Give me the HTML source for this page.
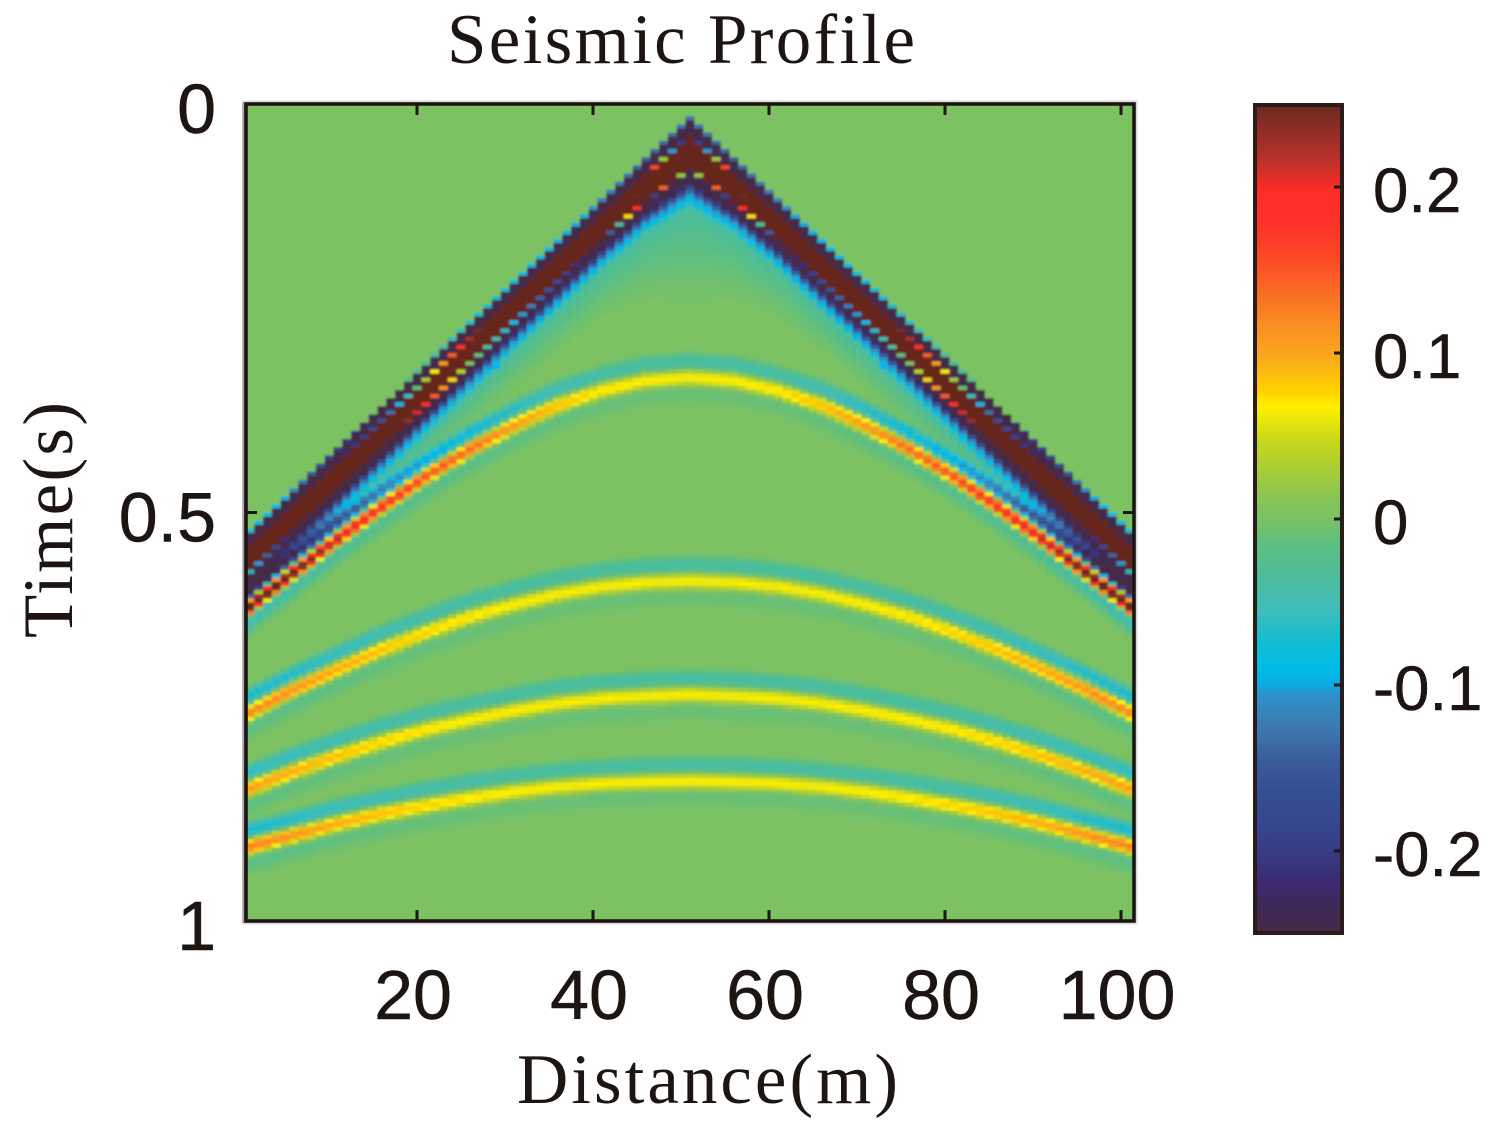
<!DOCTYPE html>
<html>
<head>
<meta charset="utf-8">
<title>Seismic Profile</title>
<style>
html,body{margin:0;padding:0;background:#fff;width:1502px;height:1132px;overflow:hidden}
svg{display:block}
.tick{font-family:"Liberation Sans",sans-serif;font-size:70px;fill:#1c1512;stroke:#1c1512;stroke-width:.5}
.cbtick{font-family:"Liberation Sans",sans-serif;font-size:63.5px;fill:#1c1512;stroke:#1c1512;stroke-width:.5}
.ser{font-family:"Liberation Serif",serif;font-size:71px;fill:#1c1512}
</style>
</head>
<body>
<svg id="chart" xmlns="http://www.w3.org/2000/svg" width="1502" height="1132" viewBox="0 0 1502 1132">
  <defs>
    <clipPath id="plotClip"><rect x="246" y="104" width="888" height="817"/></clipPath>
    <filter id="soft" x="-2%" y="-2%" width="104%" height="104%"><feGaussianBlur stdDeviation="1"/></filter>
    <linearGradient id="cbGrad" x1="0" y1="0" x2="0" y2="1"></linearGradient>
  </defs>
  <text class="ser" x="447" y="63" textLength="468" lengthAdjust="spacing">Seismic Profile</text>
  <rect x="245" y="103" width="890" height="819" fill="none" stroke="#dcd9d8" stroke-width="5"/>
  <line x1="243.5" y1="102" x2="243.5" y2="923" stroke="#aaa3a2" stroke-width="2.5"/>
  <g clip-path="url(#plotClip)">
    <g id="heat" filter="url(#soft)">
      <rect id="heatBg" x="236" y="94" width="908" height="837"/>
    </g>
  </g>
  <g id="ticks"></g>
  <rect x="246" y="104" width="888" height="817" fill="none" stroke="#1b1513" stroke-width="3.6"/>
  <g id="xlabels"></g>
  <g id="ylabels"></g>
  <text class="ser" x="517" y="1103" textLength="381" lengthAdjust="spacing">Distance(m)</text>
  <text class="ser" transform="translate(72,638) rotate(-90)" x="0" y="0" textLength="236" lengthAdjust="spacing">Time(s)</text>
  <rect x="1254" y="104" width="89" height="830" fill="url(#cbGrad)"/>
  <g id="cbticks"></g>
  <rect x="1255" y="105" width="87" height="828" fill="none" stroke="#2a1c19" stroke-width="4"/>
  <g id="cblabels"></g>
</svg>
<script>
// ---- data ----
const traces=[1,6,11,16,21,26,31,36,41,46,51,56,61,66,71,76,81,86,91,96,101];
const directOnset=[.5206,.4696,.4186,.368,.317,.266,.2155,.165,.1145,.064,.0135,.064,.1145,.165,.2155,.266,.317,.368,.4186,.4696,.5206];
const waveStretch=[.56,.56,.56,.56,.56,.56,.56,.56,.56,.6,.72,.6,.56,.56,.56,.56,.56,.56,.56,.56,.56];
const tailStretch=[.3,.3,.3,.3,.3,.32,.35,.38,.45,.62,.9,.62,.45,.38,.35,.32,.3,.3,.3,.3,.3];
const reflector1Time=[.615,.573,.532,.493,.456,.423,.394,.369,.351,.339,.335,.339,.351,.369,.394,.423,.456,.493,.532,.573,.615];
const reflector2Time=[.745,.717,.692,.668,.647,.628,.613,.600,.591,.586,.584,.586,.591,.600,.613,.628,.647,.668,.692,.717,.745];
const reflector3Time=[.838,.817,.798,.781,.766,.754,.743,.734,.728,.725,.723,.725,.728,.734,.743,.754,.766,.781,.798,.817,.838];
const reflector4Time=[.909,.895,.881,.869,.859,.850,.842,.836,.832,.830,.829,.830,.832,.836,.842,.850,.859,.869,.881,.895,.909];
const reflector1Amp=[.32,.29,.23,.19,.16,.14,.115,.09,.075,.07,.068,.07,.075,.09,.115,.14,.16,.19,.23,.29,.32];
const reflector2Amp=[.13,.115,.10,.09,.08,.075,.07,.068,.068,.068,.068,.068,.068,.068,.07,.075,.08,.09,.10,.115,.13];
const reflector3Amp=[.11,.10,.09,.08,.075,.07,.07,.068,.068,.068,.068,.068,.068,.068,.07,.07,.075,.08,.09,.10,.11];
const reflector4Amp=[.13,.115,.10,.09,.08,.075,.07,.068,.068,.07,.07,.07,.068,.068,.07,.075,.08,.09,.10,.115,.13];
const directWavelet=[-.02,-.1,-.35,-.5,-.5,-.5,-.5,-.15,.4,.5,.5,.5,.5,.24,.5,.5,.5,.5,.2,-.3,-.35,-.35,-.3,-.26,-.21,-.17,-.14,-.11,-.095,-.085,-.07,-.055];
const directTail=[-.04,-.028,-.018,-.011,-.006,-.003,0];
const reflectorWavelet=[0,-.15,-.5,-.6,-.45,.1,.8,1,.8,.15,-.12,-.15,-.1,-.05,-.02,0];
const xTickValues=[20,40,60,80,100];
const yTickValues=[0,0.5,1];
const yTickLabels=['0','0.5','1'];
const cbTickValues=[0.2,0.1,0,-0.1,-0.2];
const cbTickLabels=['0.2','0.1','0','-0.1','-0.2'];
const cmapValues=[.25,.2476,.2175,.1976,.1777,.1572,.1373,.1175,.0976,.0777,.0675,.0476,.0277,.0072,0,-.0139,-.0343,-.0542,-.0746,-.0904,-.101,-.1048,-.1253,-.1452,-.1651,-.1855,-.2054,-.2193,-.2355,-.25];
const cmapColors=['#66261f','#6e2a22','#b8312a','#ff2c27','#fd3228','#fc4a26','#fa6a25','#f98d22','#faa81e','#ffd000','#fff000','#c8d81a','#a4cc38','#7fc35f','#7bc263','#5fbf80','#4cbd9a','#3fbdb8','#12bcd2','#00bbe8','#10a8e0','#2d93cc','#3c7ab0','#3b5c9a','#354e92','#35468f','#37377f','#3b2a70','#3f2852','#452a48'];

// ---- axis functions ----
const xScale=d=>417+(d-20)*8.8;
const yScale=t=>104+t*817;
const cbScale=v=>519-1660*v;
const SVGNS='http://www.w3.org/2000/svg';
const rowCount=200, rowDt=1/rowCount, waveDt=0.005;

function hexRgb(h){return [parseInt(h.slice(1,3),16),parseInt(h.slice(3,5),16),parseInt(h.slice(5,7),16)];}
function colorOf(v){
  if(v>=cmapValues[0])return cmapColors[0];
  const n=cmapValues.length;
  if(v<=cmapValues[n-1])return cmapColors[n-1];
  let i=0;while(v<cmapValues[i+1])i++;
  const f=(cmapValues[i]-v)/(cmapValues[i]-cmapValues[i+1]);
  const a=hexRgb(cmapColors[i]),b=hexRgb(cmapColors[i+1]);
  return 'rgb('+Math.round(a[0]+(b[0]-a[0])*f)+','+Math.round(a[1]+(b[1]-a[1])*f)+','+Math.round(a[2]+(b[2]-a[2])*f)+')';
}
function pick(arr,tr){
  for(let i=0;i<traces.length-1;i++){
    if(tr<=traces[i+1]){const f=(tr-traces[i])/(traces[i+1]-traces[i]);return arr[i]+(arr[i+1]-arr[i])*f;}
  }
  return arr[arr.length-1];
}
function sampleWave(w,u){
  if(u<0||u>=w.length-1)return 0;
  const i=Math.floor(u),f=u-i;
  return w[i]+(w[i+1]-w[i])*f;
}
const reflectors=[[reflector1Time,reflector1Amp],[reflector2Time,reflector2Amp],[reflector3Time,reflector3Amp],[reflector4Time,reflector4Amp]];
const reflectorPeakIndex=7;

function valueAt(tr,t){
  const onset=pick(directOnset,tr);
  const stretch=pick(waveStretch,tr);
  let v=sampleWave(directWavelet,(t-onset)/(waveDt*stretch));
  const tailStart=onset+(directWavelet.length-1)*waveDt*stretch;
  if(t>=tailStart){v+=sampleWave(directTail,(t-tailStart)/(0.025*pick(tailStretch,tr)));}
  for(const r of reflectors){
    const at=pick(r[0],tr),amp=pick(r[1],tr);
    v+=amp*sampleWave(reflectorWavelet,(t-at)/waveDt+reflectorPeakIndex);
  }
  return v;
}

// ---- heatmap ----
const heat=document.getElementById('heat');
document.getElementById('heatBg').setAttribute('fill',colorOf(0));
const cellW=8.8, cellH=817/rowCount;
for(let tr=1;tr<=101;tr++){
  let rowStart=-1,lastColor=null;
  const flush=(endRow)=>{
    if(lastColor===null)return;
    const cell=document.createElementNS(SVGNS,'rect');
    
    
    const x0=xScale(tr)-cellW/2;
    const extra=(tr===1||tr===101)?10:0;
    cell.setAttribute('x',(tr===1?x0-extra:x0).toFixed(2));
    cell.setAttribute('y',yScale(rowStart*rowDt).toFixed(2));
    cell.setAttribute('width',(cellW+extra+.3).toFixed(2));
    cell.setAttribute('height',((endRow-rowStart)*cellH+.3).toFixed(2));
    cell.setAttribute('fill',lastColor);
    heat.appendChild(cell);
  };
  for(let r=0;r<=rowCount;r++){
    const v=r<rowCount?valueAt(tr,(r+.5)*rowDt):0;
    const c=Math.abs(v)<0.002?null:colorOf(v);
    if(c!==lastColor){flush(r);lastColor=c;rowStart=r;}
  }
}

// ---- axes ----
const ticks=document.getElementById('ticks');
function addLine(parent,x1,y1,x2,y2,name,w){
  const l=document.createElementNS(SVGNS,'line');
  
  
  l.setAttribute('x1',x1);l.setAttribute('y1',y1);l.setAttribute('x2',x2);l.setAttribute('y2',y2);
  l.setAttribute('stroke','#1b1513');l.setAttribute('stroke-width',w);
  parent.appendChild(l);
}
function addText(parent,cls,x,y,anchor,str,name){
  const t=document.createElementNS(SVGNS,'text');
  
  
  t.setAttribute('class',cls);
  t.setAttribute('x',x);t.setAttribute('y',y);t.setAttribute('text-anchor',anchor);
  t.textContent=str;
  parent.appendChild(t);
}
xTickValues.forEach(d=>{
  addLine(ticks,xScale(d),921,xScale(d),910,'x-tick-bottom',3);
  addLine(ticks,xScale(d),104,xScale(d),115,'x-tick-top',3);
  addText(document.getElementById('xlabels'),'tick',xScale(d)-4,1019,'middle',String(d),'x-tick-label');
});
yTickValues.forEach((t,i)=>{
  addLine(ticks,246,yScale(t),257,yScale(t),'y-tick-left',3);
  addLine(ticks,1134,yScale(t),1123,yScale(t),'y-tick-right',3);
  addText(document.getElementById('ylabels'),'tick',216,yScale(t)+29,'end',yTickLabels[i],'y-tick-label');
});
// ---- colorbar ----
const grad=document.getElementById('cbGrad');
cmapValues.forEach((v,i)=>{
  const s=document.createElementNS(SVGNS,'stop');
  s.setAttribute('offset',((cbScale(v)-104)/830).toFixed(4));
  s.setAttribute('stop-color',cmapColors[i]);
  grad.appendChild(s);
});
cbTickValues.forEach((v,i)=>{
  addLine(document.getElementById('cbticks'),1334,cbScale(v),1343,cbScale(v),'colorbar-tick',3);
  addText(document.getElementById('cblabels'),'cbtick',1373,cbScale(v)+25,'start',cbTickLabels[i],'colorbar-tick-label');
});
</script>
</body>
</html>
